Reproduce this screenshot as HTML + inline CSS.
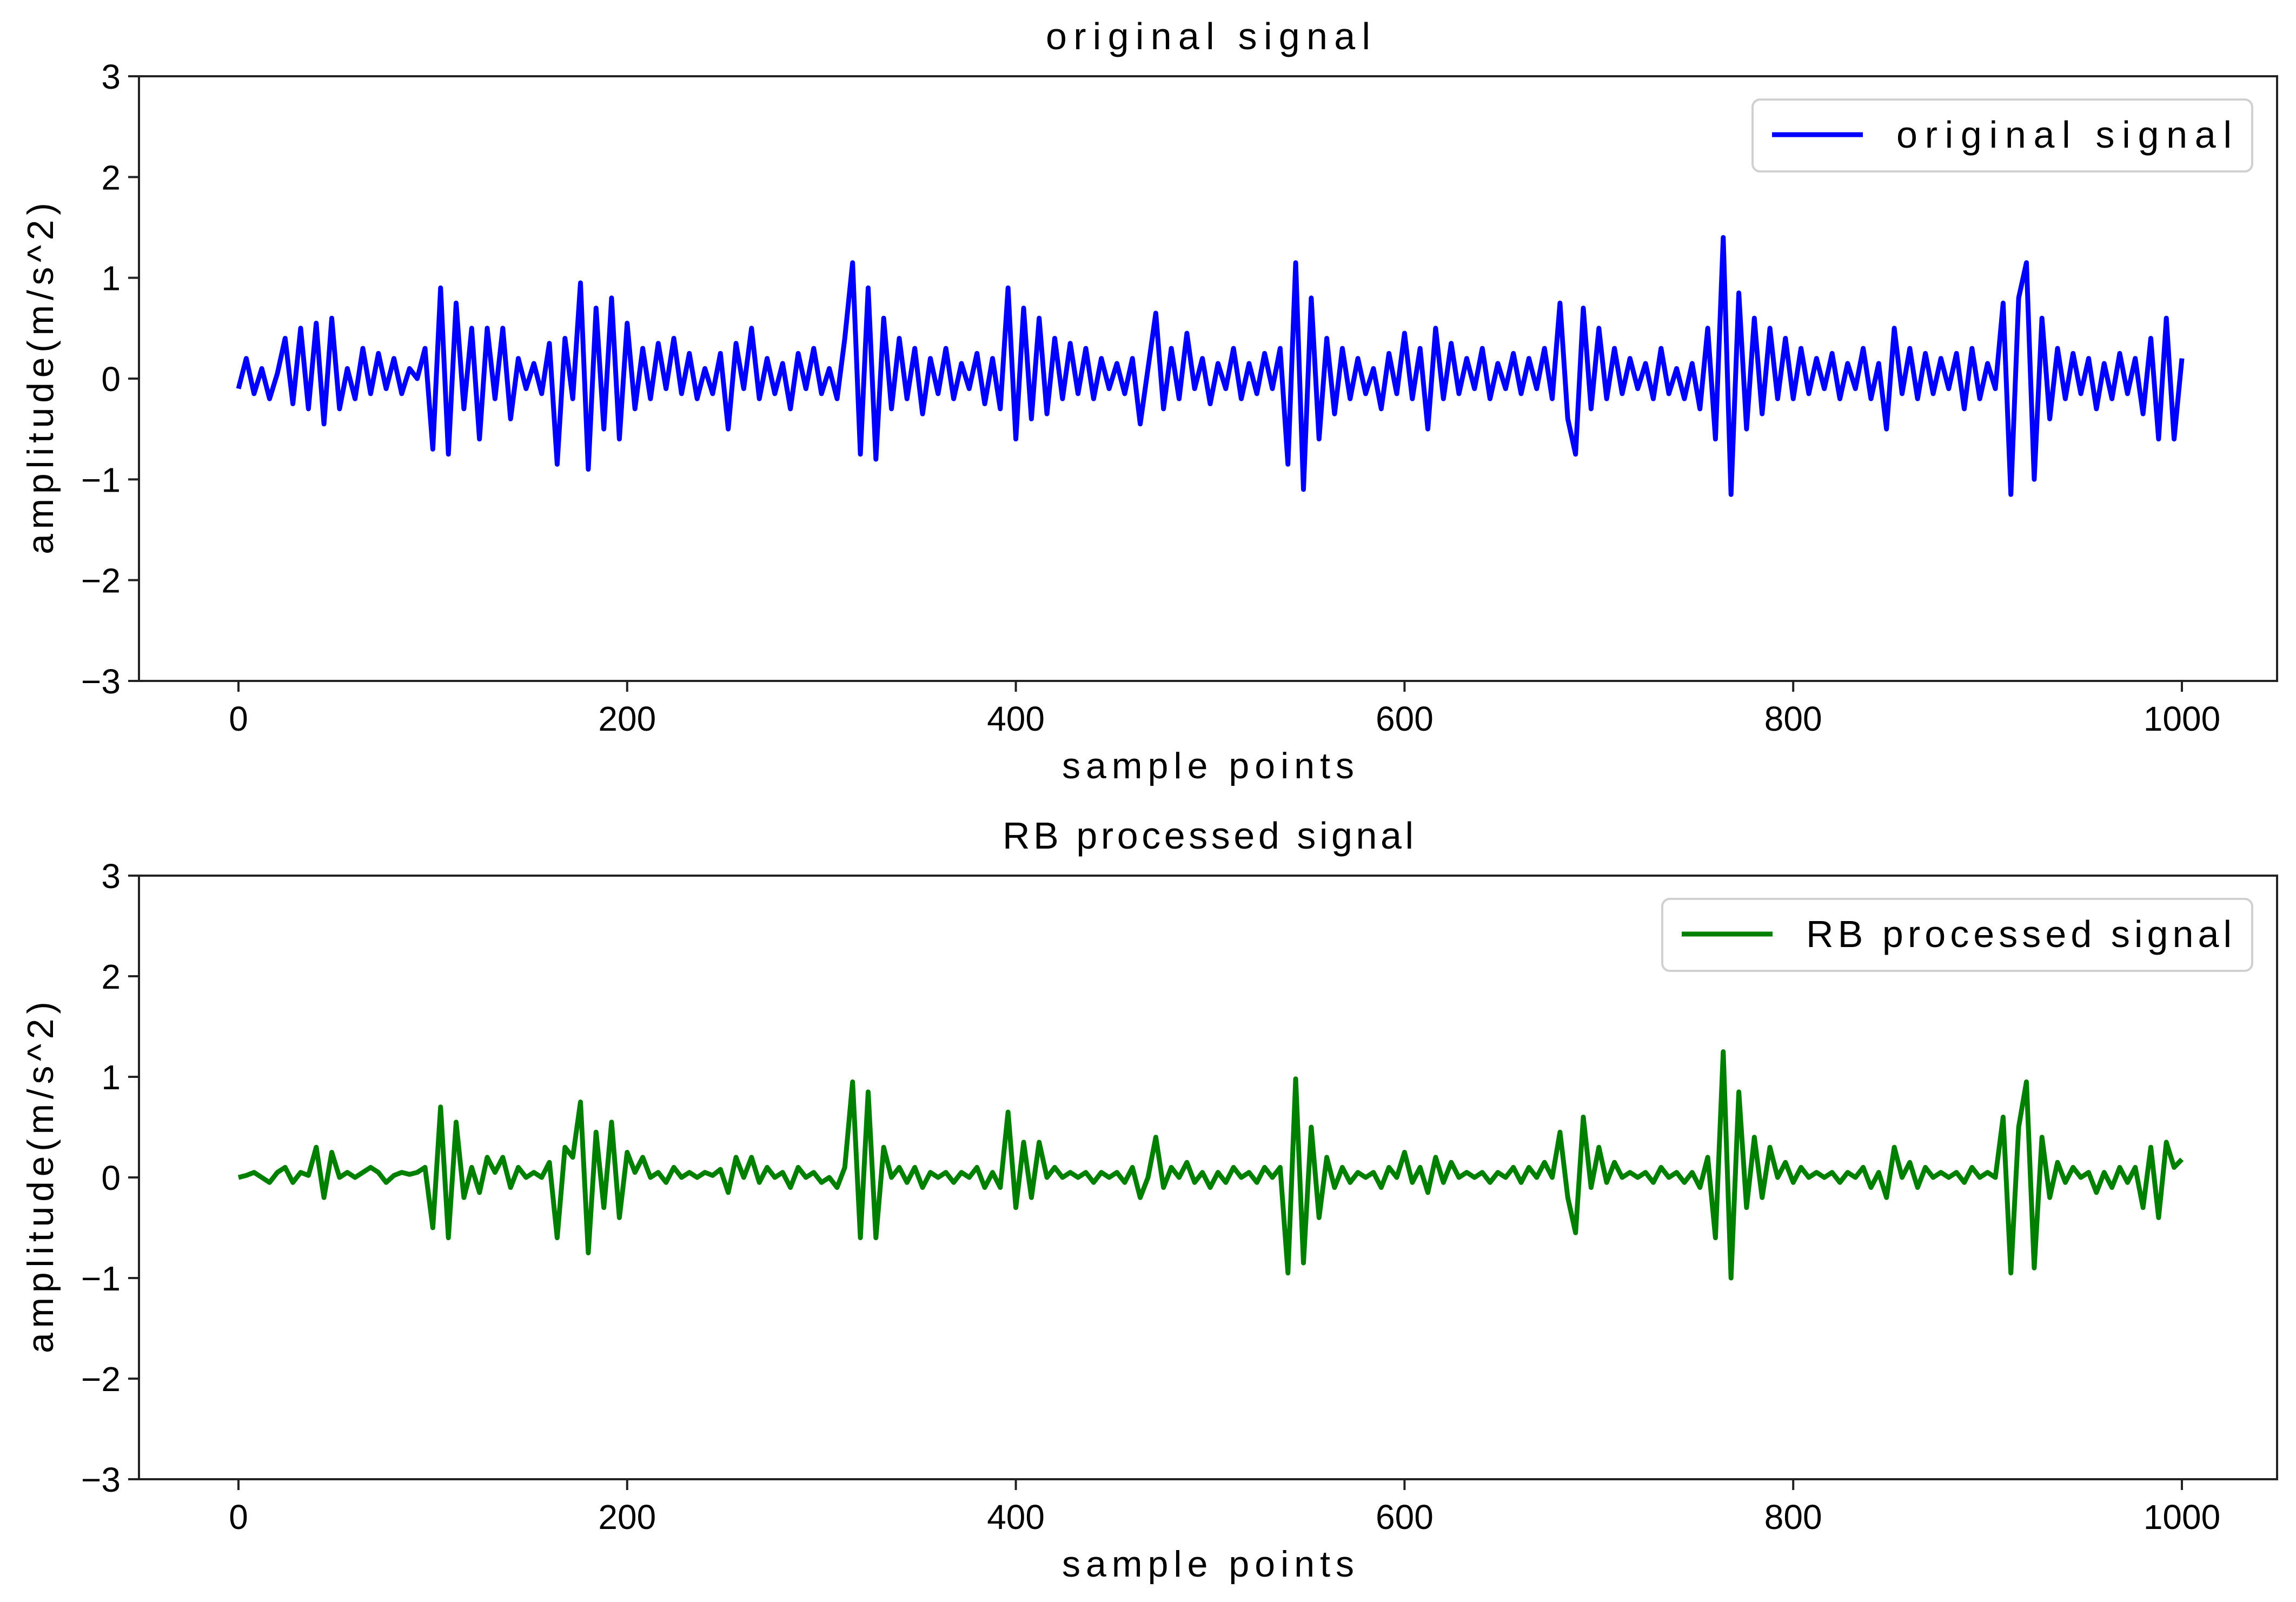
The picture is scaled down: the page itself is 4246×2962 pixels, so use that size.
<!DOCTYPE html>
<html><head><meta charset="utf-8"><style>
html,body{margin:0;padding:0;background:#fff;}
svg{display:block;}
.tick{font-family:"Liberation Sans",sans-serif;font-size:64px;fill:#000;}
.cjk{font-family:"Liberation Sans","Noto Sans CJK SC",sans-serif;fill:#000;}
</style></head><body>
<svg id="chart" width="4246" height="2962" viewBox="0 0 4246 2962" xmlns="http://www.w3.org/2000/svg"></svg>
<script>
const xTicks=[0,200,400,600,800,1000];
const yTicks=[-3,-2,-1,0,1,2,3];
const sampleStep=4;
const originalSignal=[
-0.1,0.2,-0.15,0.1,-0.2,0.05,0.4,-0.25,0.5,-0.3,
0.55,-0.45,0.6,-0.3,0.1,-0.2,0.3,-0.15,0.25,-0.1,
0.2,-0.15,0.1,0.0,0.3,-0.7,0.9,-0.75,0.75,-0.3,
0.5,-0.6,0.5,-0.2,0.5,-0.4,0.2,-0.1,0.15,-0.15,
0.35,-0.85,0.4,-0.2,0.95,-0.9,0.7,-0.5,0.8,-0.6,
0.55,-0.3,0.3,-0.2,0.35,-0.1,0.4,-0.15,0.25,-0.2,
0.1,-0.15,0.25,-0.5,0.35,-0.1,0.5,-0.2,0.2,-0.15,
0.15,-0.3,0.25,-0.1,0.3,-0.15,0.1,-0.2,0.4,1.15,
-0.75,0.9,-0.8,0.6,-0.3,0.4,-0.2,0.3,-0.35,0.2,
-0.15,0.3,-0.2,0.15,-0.1,0.25,-0.25,0.2,-0.3,0.9,
-0.6,0.7,-0.4,0.6,-0.35,0.4,-0.2,0.35,-0.15,0.3,
-0.2,0.2,-0.1,0.15,-0.15,0.2,-0.45,0.1,0.65,-0.3,
0.3,-0.2,0.45,-0.1,0.2,-0.25,0.15,-0.1,0.3,-0.2,
0.15,-0.15,0.25,-0.1,0.3,-0.85,1.15,-1.1,0.8,-0.6,
0.4,-0.35,0.3,-0.2,0.2,-0.15,0.1,-0.3,0.25,-0.15,
0.45,-0.2,0.3,-0.5,0.5,-0.2,0.35,-0.15,0.2,-0.1,
0.3,-0.2,0.15,-0.1,0.25,-0.15,0.2,-0.1,0.3,-0.2,
0.75,-0.4,-0.75,0.7,-0.3,0.5,-0.2,0.3,-0.15,0.2,
-0.1,0.15,-0.2,0.3,-0.15,0.1,-0.2,0.15,-0.3,0.5,
-0.6,1.4,-1.15,0.85,-0.5,0.6,-0.35,0.5,-0.2,0.4,
-0.2,0.3,-0.15,0.2,-0.1,0.25,-0.2,0.15,-0.1,0.3,
-0.2,0.15,-0.5,0.5,-0.15,0.3,-0.2,0.25,-0.15,0.2,
-0.1,0.25,-0.3,0.3,-0.2,0.15,-0.1,0.75,-1.15,0.8,
1.15,-1.0,0.6,-0.4,0.3,-0.2,0.25,-0.15,0.2,-0.3,
0.15,-0.2,0.25,-0.15,0.2,-0.35,0.4,-0.6,0.6,-0.6,
0.2];
const processedSignal=[
0,0.02,0.05,0,-0.05,0.05,0.1,-0.05,0.05,0.02,
0.3,-0.2,0.25,0,0.05,0,0.05,0.1,0.05,-0.05,
0.02,0.05,0.03,0.05,0.1,-0.5,0.7,-0.6,0.55,-0.2,
0.1,-0.15,0.2,0.05,0.2,-0.1,0.1,0,0.05,0,
0.15,-0.6,0.3,0.2,0.75,-0.75,0.45,-0.3,0.55,-0.4,
0.25,0.05,0.2,0,0.05,-0.05,0.1,0,0.05,0,
0.05,0.02,0.08,-0.15,0.2,0,0.2,-0.05,0.1,0,
0.05,-0.1,0.1,0,0.05,-0.05,0,-0.1,0.1,0.95,
-0.6,0.85,-0.6,0.3,0,0.1,-0.05,0.1,-0.1,0.05,
0,0.05,-0.05,0.05,0,0.1,-0.1,0.05,-0.1,0.65,
-0.3,0.35,-0.2,0.35,0,0.1,0,0.05,0,0.05,
-0.05,0.05,0,0.05,-0.05,0.1,-0.2,0,0.4,-0.1,
0.1,0,0.15,-0.05,0.05,-0.1,0.05,-0.05,0.1,0,
0.05,-0.05,0.1,0,0.1,-0.95,0.98,-0.85,0.5,-0.4,
0.2,-0.1,0.1,-0.05,0.05,0,0.05,-0.1,0.1,0,
0.25,-0.05,0.1,-0.15,0.2,-0.05,0.15,0,0.05,0,
0.05,-0.05,0.05,0,0.1,-0.05,0.1,0,0.15,0,
0.45,-0.2,-0.55,0.6,-0.1,0.3,-0.05,0.15,0,0.05,
0,0.05,-0.05,0.1,0,0.05,-0.05,0.05,-0.1,0.2,
-0.6,1.25,-1.0,0.85,-0.3,0.4,-0.2,0.3,0,0.15,
-0.05,0.1,0,0.05,0,0.05,-0.05,0.05,0,0.1,
-0.1,0.05,-0.2,0.3,0,0.15,-0.1,0.1,0,0.05,
0,0.05,-0.05,0.1,0,0.05,0,0.6,-0.95,0.5,
0.95,-0.9,0.4,-0.2,0.15,-0.05,0.1,0,0.05,-0.15,
0.05,-0.1,0.1,-0.05,0.1,-0.3,0.3,-0.4,0.35,0.1,
0.18];

const NS="http://www.w3.org/2000/svg";
const svg=document.getElementById('chart');
function mk(tag,attrs,parent,text){const e=document.createElementNS(NS,tag);for(const k in attrs)e.setAttribute(k,attrs[k]);if(text!==undefined)e.textContent=text;(parent||svg).appendChild(e);return e;}

const L=257,R=4211;
function xScale(v){return 441+(v/1000)*(4035-441);}

function panel(top,bottom,title,data,color,legendBox,key){
  const g=mk('g',{});
  
  
  const yScale=v=>bottom-(v+3)/6*(bottom-top);
  let d='';
  data.forEach((v,i)=>{d+=(i?'L':'M')+xScale(i*sampleStep).toFixed(1)+' '+yScale(v).toFixed(1);});
  const ln=mk('path',{d:d,fill:'none',stroke:color,'stroke-width':9,'stroke-linejoin':'round'},g);
  
  
  const fr=mk('rect',{x:L,y:top,width:R-L,height:bottom-top,fill:'none',stroke:'#222','stroke-width':4},g);
  
  
  yTicks.forEach(t=>{
    const y=yScale(t);
    mk('line',{x1:L-20,x2:L,y1:y,y2:y,stroke:'#222','stroke-width':4},g);
    const tx=mk('text',{x:L-34,y:y+23,'text-anchor':'end',class:'tick'},g,t<0?'\u2212'+Math.abs(t):String(t));
    
    
  });
  xTicks.forEach(t=>{
    const x=xScale(t);
    mk('line',{x1:x,x2:x,y1:bottom,y2:bottom+20,stroke:'#222','stroke-width':4},g);
    const tx=mk('text',{x:x,y:bottom+92,'text-anchor':'middle',class:'tick'},g,String(t));
    
    
  });
  const ti=mk('text',{x:(L+R)/2,y:top-50,'text-anchor':'middle',class:'cjk','font-size':70,textLength:title.length*40,lengthAdjust:'spacing'},g,title);
  
  
  const xl=mk('text',{x:(L+R)/2,y:bottom+180,'text-anchor':'middle',class:'cjk','font-size':68,textLength:540,lengthAdjust:'spacing'},g,'sample points');
  
  
  const cy=(top+bottom)/2;
  const yl=mk('text',{x:0,y:0,transform:'translate(98,'+cy+') rotate(-90)','text-anchor':'middle',class:'cjk','font-size':68,textLength:650,lengthAdjust:'spacing'},g,'amplitude(m/s^2)');
  
  
  const lg=mk('g',{},g);
  
  
  mk('rect',{x:legendBox.x,y:top+43,width:4165-legendBox.x,height:133,rx:14,fill:'#fff',stroke:'#d0d0d0','stroke-width':4},lg);
  const my=top+108;
  mk('line',{x1:legendBox.x+36,x2:legendBox.x+204,y1:my,y2:my,stroke:color,'stroke-width':9},lg);
  const lt=mk('text',{x:legendBox.x+266,y:my+24,class:'cjk','font-size':70,textLength:4127-legendBox.x-266,lengthAdjust:'spacing'},lg,title);
  
  
}
panel(141,1259,'original signal',originalSignal,'#0000ff',{x:3241},'original');
panel(1619,2735,'RB processed signal',processedSignal,'#008000',{x:3074},'processed');
</script>
</body></html>
